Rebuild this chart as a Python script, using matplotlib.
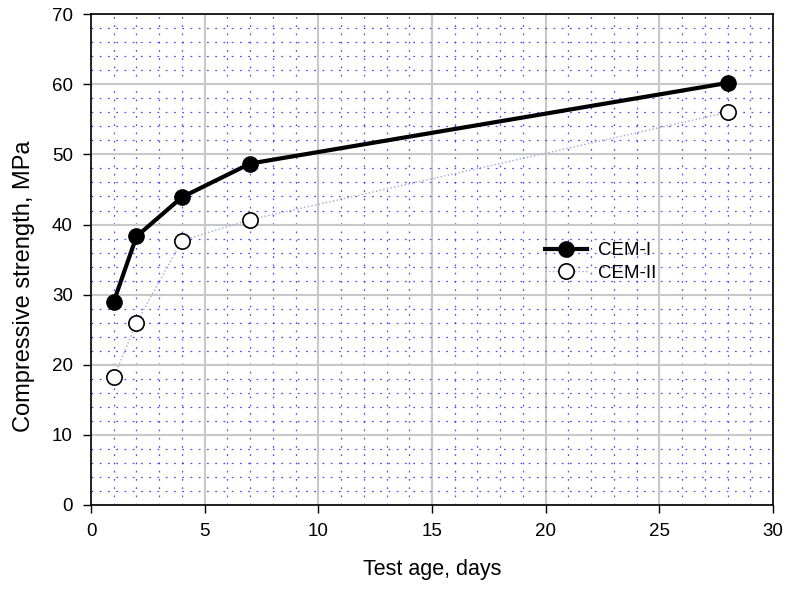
import matplotlib
matplotlib.use('Agg')
import matplotlib.pyplot as plt
from matplotlib.ticker import MultipleLocator

# Dados
idade = [1, 2, 4, 7, 28]
cem1 = [29.0, 38.3, 43.9, 48.7, 60.2]
cem2 = [18.2, 26.0, 37.7, 40.7, 56.0]

plt.rcParams['font.family'] = ['Liberation Sans', 'DejaVu Sans']

fig = plt.figure(figsize=(7.86, 5.92), dpi=100)
ax = fig.add_axes([0.1158, 0.147, 0.8677, 0.829])

ax.plot(idade, cem2, linestyle=':', color='#a0a8d0', linewidth=1.0,
        marker='o', markersize=11, markerfacecolor='white',
        markeredgecolor='black', markeredgewidth=1.2, label='CEM-II', zorder=3)
ax.plot(idade, cem1, linestyle='-', color='black', linewidth=3,
        marker='o', markersize=11, markerfacecolor='black',
        markeredgecolor='black', label='CEM-I', zorder=4)

ax.set_xlim(0, 30)
ax.set_ylim(0, 70)
ax.xaxis.set_major_locator(MultipleLocator(5))
ax.xaxis.set_minor_locator(MultipleLocator(1))
ax.yaxis.set_major_locator(MultipleLocator(10))
ax.yaxis.set_minor_locator(MultipleLocator(2))

ax.grid(which='minor', color='#2020ff', linestyle=(0, (1.4, 5.2)), linewidth=0.9, alpha=0.8)
ax.grid(which='major', color='#c8c8c8', linestyle='-', linewidth=1.5)
ax.set_axisbelow(True)

ax.tick_params(which='major', direction='out', length=6, width=1, labelsize=13.5,
               colors='black', pad=7)
ax.tick_params(which='minor', length=0)
for s in ax.spines.values():
    s.set_linewidth(1.2)

ax.set_xlabel('Test age, days', fontsize=15.5, labelpad=14)
ax.set_ylabel('Compressive strength, MPa', fontsize=17)
ax.yaxis.set_label_coords(-0.082, 0.445)

handles, labels = ax.get_legend_handles_labels()
leg = ax.legend(handles[::-1], labels[::-1], loc='center left', bbox_to_anchor=(0.647, 0.495),
                frameon=False, fontsize=13.5, handlelength=2.2, handletextpad=0.6,
                borderpad=0.2, labelspacing=0.3)

plt.savefig('out.png', dpi=100)
